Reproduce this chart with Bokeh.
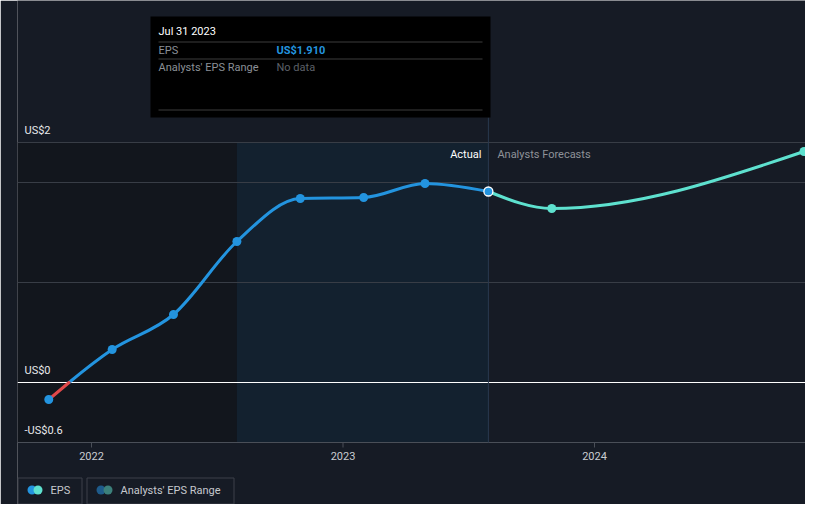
import numpy as np
from bokeh.plotting import figure
from bokeh.models import Range1d
from bokeh.core.properties import value
from bokeh.embed import file_html
from bokeh.resources import INLINE

# ---------------- data ----------------
actual_dates = ["2021-10-31", "2022-01-31", "2022-04-30", "2022-07-31",
                "2022-10-31", "2023-01-31", "2023-04-30", "2023-07-31"]
actual_eps = [-0.17, 0.33, 0.68, 1.41, 1.84, 1.85, 1.99, 1.91]
forecast_dates = ["2023-07-31", "2023-10-31", "2024-10-31"]
forecast_eps = [1.91, 1.74, 2.31]
year_ticks = ["2022-01-01", "2023-01-01", "2024-01-01"]
year_labels = ["2022", "2023", "2024"]
grid_values = [1.0, 2.0, 2.4]
axis_domain = [-0.6, 2.4]
y_label_values = [2.4, 0.0, -0.6]
y_label_texts = ["US$2", "US$0", "-US$0.6"]
hover_title = "Jul 31 2023"
hover_rows = ["EPS", "Analysts' EPS Range"]
hover_vals = ["US$1.910", "No data"]
legend_labels = ["EPS", "Analysts' EPS Range"]

# ---------------- styles ----------------
BG = "#161b25"
DARK = "#12161d"
HIGHLIGHT = "#13212f"
GRID = "#383d46"
BLUE = "#2394df"
TEAL = "#5ee1cf"
RED = "#e0484a"
FONT = value("Roboto")

# ---------------- layout ----------------
W, H = 805, 504
BL, BR = 17, 0
FL, FR, FT, FB = BL, W - BR, 0, H   # frame in figure px
DAY_MS = 86400000.0
PX_PER_MS = 251.5 / (365 * DAY_MS)
X_REF_PX = 91.0       # px of first year tick
Y0_PX = 382.0         # px of zero
PX_PER_UNIT = 100.0
LEG_Y = 489.5         # legend row centre


def ms(d):
    return float(np.datetime64(d, "ms").astype(np.int64))


x_start = ms(year_ticks[0]) - (X_REF_PX - FL) / PX_PER_MS
x_end = x_start + (FR - FL) / PX_PER_MS
y_start = (Y0_PX - FB) / PX_PER_UNIT
y_end = (Y0_PX - FT) / PX_PER_UNIT


def px_x(X):
    return x_start + (X - FL) / PX_PER_MS


def px_y(Y):
    return (Y0_PX - Y) / PX_PER_UNIT


def monotone_beziers(xs, ys):
    xs = np.asarray(xs, float)
    ys = np.asarray(ys, float)
    n = len(xs)
    h = np.diff(xs)
    s = np.diff(ys) / h
    t = np.zeros(n)
    sg = lambda v: -1.0 if v < 0 else 1.0
    for i in range(1, n - 1):
        s0, s1 = s[i - 1], s[i]
        pp = (s0 * h[i] + s1 * h[i - 1]) / (h[i - 1] + h[i])
        t[i] = (sg(s0) + sg(s1)) * min(abs(s0), abs(s1), 0.5 * abs(pp))
    if n > 2:
        t[0] = (3 * s[0] - t[1]) / 2
        t[-1] = (3 * s[-1] - t[-2]) / 2
    else:
        t[0] = t[-1] = s[0]
    segs = []
    for i in range(n - 1):
        d = h[i] / 3
        segs.append(((xs[i], ys[i]), (xs[i] + d, ys[i] + d * t[i]),
                     (xs[i + 1] - d, ys[i + 1] - d * t[i + 1]), (xs[i + 1], ys[i + 1])))
    return segs


def bez_y(seg, u):
    p0, p1, p2, p3 = [q[1] for q in seg]
    return (1 - u) ** 3 * p0 + 3 * (1 - u) ** 2 * u * p1 + 3 * (1 - u) * u ** 2 * p2 + u ** 3 * p3


def split(seg, u):
    lerp = lambda a, b: (a[0] + (b[0] - a[0]) * u, a[1] + (b[1] - a[1]) * u)
    p0, p1, p2, p3 = seg
    p01, p12, p23 = lerp(p0, p1), lerp(p1, p2), lerp(p2, p3)
    p012, p123 = lerp(p01, p12), lerp(p12, p23)
    m = lerp(p012, p123)
    return (p0, p01, p012, m), (m, p123, p23, p3)


def draw_beziers(p, segs, color):
    p.bezier(x0=[s[0][0] for s in segs], y0=[s[0][1] for s in segs],
             cx0=[s[1][0] for s in segs], cy0=[s[1][1] for s in segs],
             cx1=[s[2][0] for s in segs], cy1=[s[2][1] for s in segs],
             x1=[s[3][0] for s in segs], y1=[s[3][1] for s in segs],
             line_color=color, line_width=3, line_cap="round")


p = figure(width=W, height=H, output_backend="svg", toolbar_location=None,
           x_range=Range1d(x_start, x_end), y_range=Range1d(y_start, y_end),
           x_axis_location=None, y_axis_location=None,
           min_border=0, min_border_left=BL, min_border_right=BR,
           background_fill_color=BG, border_fill_color=BG, outline_line_color=None)
p.grid.visible = False

ax = [ms(d) for d in actual_dates]
fx = [ms(d) for d in forecast_dates]
last_x = ax[-1]
year_ago = last_x - 365 * DAY_MS

# regions
p.quad(left=[x_start], right=[year_ago], bottom=[axis_domain[0]], top=[axis_domain[1]],
       fill_color=DARK, line_color=None)
p.quad(left=[year_ago], right=[last_x], bottom=[axis_domain[0]], top=[axis_domain[1]],
       fill_color=HIGHLIGHT, line_color=None)

# grid lines
left_edge, right_edge = px_x(FL), x_end
p.segment(x0=[left_edge] * len(grid_values), x1=[right_edge] * len(grid_values),
          y0=grid_values, y1=grid_values, line_color=GRID, line_width=1)
p.segment(x0=[left_edge], x1=[right_edge], y0=[axis_domain[0]], y1=[axis_domain[0]],
          line_color="#4a4f58", line_width=1)
p.segment(x0=[left_edge], x1=[right_edge], y0=[0], y1=[0], line_color="#ffffff", line_width=1)

# x ticks and labels
tx = [ms(d) for d in year_ticks]
p.segment(x0=tx, x1=tx, y0=[axis_domain[0]] * 3, y1=[axis_domain[0] - 5 / PX_PER_UNIT] * 3,
          line_color="#4a4f58", line_width=1)
p.text(x=tx, y=[axis_domain[0]] * 3, text=year_labels, y_offset=13,
       text_align="center", text_baseline="middle", text_color="#c9ccd1",
       text_font=FONT, text_font_size="11px")

# y labels
p.text(x=[px_x(24)] * 3, y=y_label_values, text=y_label_texts, y_offset=-12,
       text_align="left", text_baseline="middle", text_color="#e8e9eb",
       text_font=FONT, text_font_size="11px")

# vertical hover line
p.segment(x0=[last_x], x1=[last_x], y0=[axis_domain[0]], y1=[px_y(117)],
          line_color="#2a3a4f", line_width=1)

# Actual / Forecast labels
p.text(x=[last_x], y=[axis_domain[1]], text=["Actual"], x_offset=-7, y_offset=12,
       text_align="right", text_baseline="middle", text_color="#ffffff",
       text_font=FONT, text_font_size="11px")
p.text(x=[last_x], y=[axis_domain[1]], text=["Analysts Forecasts"], x_offset=9, y_offset=12,
       text_align="left", text_baseline="middle", text_color="#8e9298",
       text_font=FONT, text_font_size="11px")

# curves
segs = monotone_beziers(ax, actual_eps)
red, blue = [], []
for s in segs:
    y0, y3 = s[0][1], s[3][1]
    if y0 < 0 <= y3:
        lo, hi = 0.0, 1.0
        for _ in range(60):
            mid = (lo + hi) / 2
            if bez_y(s, mid) < 0:
                lo = mid
            else:
                hi = mid
        a, b = split(s, lo)
        red.append(a)
        blue.append(b)
    elif y3 < 0:
        red.append(s)
    else:
        blue.append(s)
draw_beziers(p, blue, BLUE)
if red:
    draw_beziers(p, red, RED)
draw_beziers(p, monotone_beziers(fx, forecast_eps), TEAL)

p.scatter(x=ax[:-1], y=actual_eps[:-1], size=9, fill_color=BLUE, line_color=None)
p.scatter(x=fx[1:], y=forecast_eps[1:], size=9, fill_color=TEAL, line_color=None)
p.scatter(x=[ax[-1]], y=[actual_eps[-1]], size=9, fill_color=BLUE,
          line_color="#ffffff", line_width=1.3)

# tooltip
p.quad(left=[px_x(150)], right=[px_x(490)], top=[px_y(16)], bottom=[px_y(117)],
       fill_color="#000000", line_color=None)
sep = [41.5, 58.5, 109.5]
p.segment(x0=[px_x(158)] * 3, x1=[px_x(482)] * 3, y0=[px_y(v) for v in sep],
          y1=[px_y(v) for v in sep], line_color="#3d3d3d", line_width=1)
p.text(x=[px_x(158)], y=[px_y(31)], text=[hover_title], text_baseline="middle",
       text_color="#ffffff", text_font=FONT, text_font_size="11px")
p.text(x=[px_x(158)] * 2, y=[px_y(49.5), px_y(66.5)], text=hover_rows, text_baseline="middle",
       text_color="#8b9097", text_font=FONT, text_font_size="11px")
p.text(x=[px_x(276)], y=[px_y(49.5)], text=[hover_vals[0]], text_baseline="middle",
       text_color=BLUE, text_font=FONT, text_font_size="11px", text_font_style="bold")
p.text(x=[px_x(276)], y=[px_y(66.5)], text=[hover_vals[1]], text_baseline="middle",
       text_color="#5d6168", text_font=FONT, text_font_size="11px")

# legend
p.quad(left=[px_x(17.5), px_x(86.5)], right=[px_x(81.5), px_x(233.5)],
       top=[px_y(LEG_Y - 12)] * 2, bottom=[px_y(LEG_Y + 14)] * 2,
       fill_color=None, line_color="#3c414a", line_width=1)
p.scatter(x=[px_x(31.5), px_x(37.5)], y=[px_y(LEG_Y)] * 2, size=9,
          fill_color=[BLUE, TEAL], line_color=None)
p.scatter(x=[px_x(100.5), px_x(107.5)], y=[px_y(LEG_Y)] * 2, size=9,
          fill_color=["#1e5b8b", "#3c807b"], line_color=None)
p.text(x=[px_x(50), px_x(120)], y=[px_y(LEG_Y)] * 2, text=legend_labels,
       text_baseline="middle", text_color="#c6c9ce", text_font=FONT, text_font_size="11px")

open("out.html", "w").write(file_html(p, INLINE))
